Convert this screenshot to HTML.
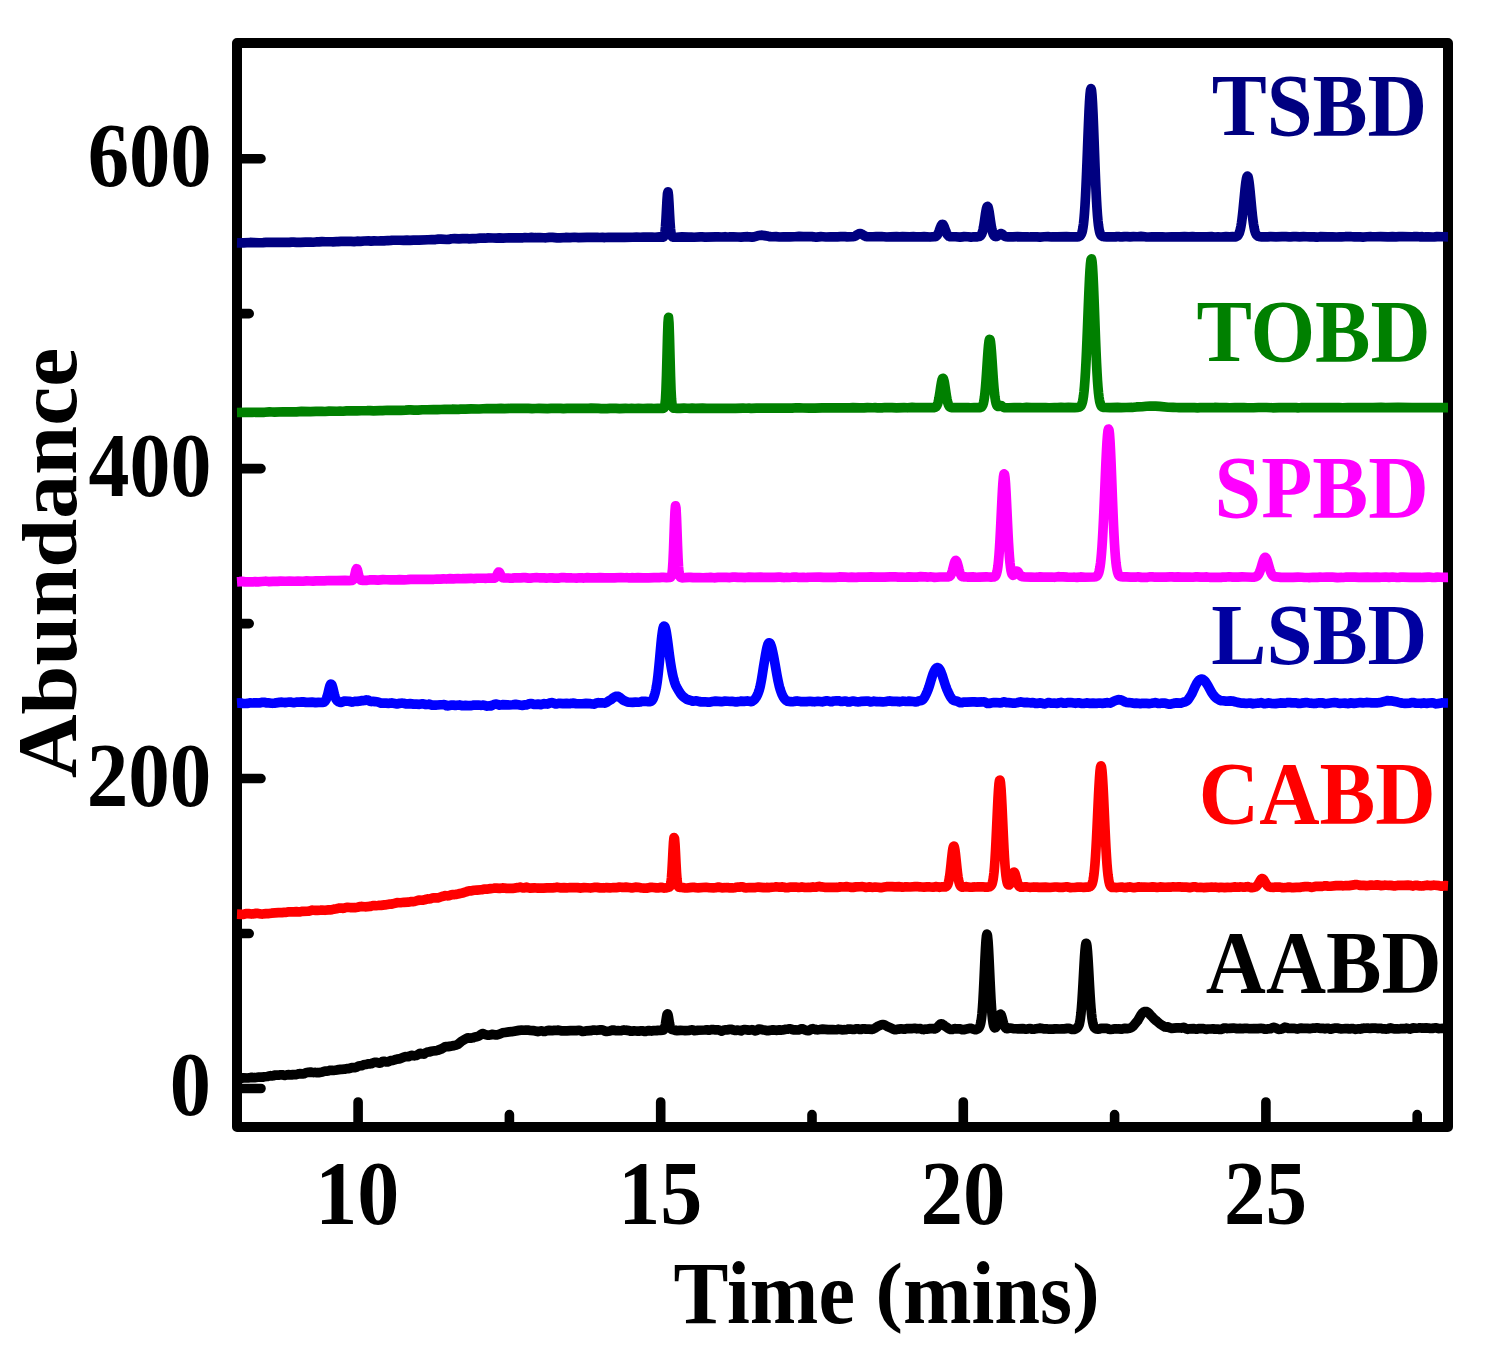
<!DOCTYPE html>
<html><head><meta charset="utf-8"><style>
html,body{margin:0;padding:0;background:#fff;}
svg{display:block;}
text{font-family:"Liberation Serif",serif;font-weight:bold;}
</style></head><body>
<svg width="1488" height="1356" viewBox="0 0 1488 1356">
<rect width="1488" height="1356" fill="#fff"/>
<rect x="237" y="43" width="1211" height="1084" fill="none" stroke="#000" stroke-width="10" stroke-linejoin="round"/>
<path d="M237,1088.50H261M237,778.56H261M237,468.62H261M237,158.68H261M237,933.53H249.2M237,623.59H249.2M237,313.65H249.2M358.10,1127V1102M660.70,1127V1102M963.30,1127V1102M1265.90,1127V1102M509.40,1127V1114.6M812.00,1127V1114.6M1114.60,1127V1114.6M1417.20,1127V1114.6" fill="none" stroke="#000" stroke-width="9.6" stroke-linecap="round"/>
<path d="M237.0,1078.40L240.0,1078.58L241.0,1078.43L243.5,1077.82L248.0,1078.00L251.0,1077.40L251.5,1077.35L253.0,1077.67L254.5,1077.72L259.0,1077.01L260.0,1077.04L261.5,1077.17L262.5,1077.16L264.5,1076.74L267.5,1076.53L269.0,1075.95L270.5,1075.70L272.0,1075.91L273.0,1075.75L275.5,1075.00L278.5,1075.14L280.5,1074.75L282.0,1074.74L283.5,1075.19L285.0,1075.42L287.0,1074.88L288.0,1074.68L290.5,1074.88L291.5,1074.86L293.0,1074.60L296.0,1074.65L297.0,1074.35L298.5,1073.87L299.5,1073.66L302.5,1073.92L304.0,1073.68L306.0,1072.86L308.5,1072.33L310.5,1072.08L312.5,1072.49L314.0,1072.54L315.5,1072.42L317.0,1072.67L318.5,1072.65L321.0,1072.19L322.5,1071.90L325.0,1071.11L326.5,1071.20L328.0,1070.98L329.5,1070.42L330.0,1070.30L332.5,1070.44L333.5,1070.45L335.0,1070.26L337.0,1069.90L340.5,1069.41L341.5,1069.32L344.5,1069.19L347.5,1068.57L349.0,1068.53L351.0,1068.02L352.0,1067.66L353.5,1067.52L355.5,1067.57L357.0,1066.97L358.5,1066.03L361.5,1065.69L362.0,1065.56L363.5,1064.86L365.5,1064.47L366.5,1064.37L368.0,1063.91L369.0,1063.84L370.5,1063.82L371.5,1063.68L373.0,1062.85L374.5,1062.42L376.0,1062.32L378.0,1062.75L379.5,1063.22L381.0,1062.76L382.5,1061.58L384.0,1061.29L384.5,1061.37L386.0,1061.85L387.5,1061.90L390.5,1060.65L393.0,1060.39L394.5,1059.93L396.0,1059.41L397.0,1059.14L399.0,1058.93L400.5,1058.58L403.5,1057.35L405.0,1056.72L408.0,1056.76L408.5,1056.61L410.0,1055.87L411.5,1055.42L414.0,1055.77L414.5,1055.82L416.0,1055.58L417.5,1054.85L419.5,1053.62L421.0,1053.35L422.5,1053.99L424.0,1054.03L424.5,1053.79L425.5,1053.00L426.0,1052.68L427.5,1052.10L429.0,1051.99L431.5,1051.25L433.0,1050.99L436.5,1050.60L437.5,1050.35L441.5,1048.86L443.5,1047.78L445.0,1046.76L446.5,1046.49L448.0,1046.64L449.5,1046.36L452.0,1045.92L454.0,1045.63L456.0,1045.09L458.0,1044.22L461.0,1041.70L466.0,1038.68L468.0,1037.81L469.5,1038.14L470.5,1038.26L473.0,1037.82L474.0,1037.22L476.0,1036.83L477.0,1036.70L478.5,1036.21L480.5,1034.91L481.5,1034.09L482.0,1033.77L482.5,1033.60L483.5,1033.79L485.0,1034.56L488.0,1035.16L489.5,1035.10L490.0,1034.99L491.5,1034.40L493.0,1034.42L495.0,1034.81L497.0,1034.95L499.5,1034.20L502.5,1032.84L505.0,1032.42L509.0,1031.83L511.5,1031.67L519.0,1030.35L521.5,1030.19L525.0,1030.25L526.0,1030.05L528.0,1030.10L530.0,1030.49L533.0,1030.57L537.5,1031.52L538.0,1031.57L541.0,1030.85L543.0,1031.21L544.0,1031.49L544.5,1031.47L546.5,1030.90L547.5,1030.57L549.0,1030.39L552.0,1030.68L554.0,1030.36L557.0,1030.44L558.5,1030.10L561.0,1030.72L562.0,1030.95L565.5,1030.88L567.0,1030.91L570.5,1030.70L575.0,1030.57L576.5,1030.62L579.0,1030.31L579.5,1030.31L582.5,1031.50L584.5,1031.20L586.0,1030.86L590.5,1030.69L593.5,1030.09L594.0,1030.05L596.0,1030.27L597.0,1030.31L600.5,1029.83L602.0,1029.84L603.5,1030.33L605.0,1031.13L606.5,1031.41L610.0,1030.95L613.0,1029.99L615.0,1030.54L616.0,1030.73L618.0,1030.65L620.0,1030.76L621.0,1030.73L622.5,1030.20L624.0,1029.94L625.5,1030.17L629.0,1030.60L630.5,1031.13L632.0,1031.26L634.0,1030.85L636.0,1030.98L637.5,1031.12L639.0,1031.09L641.5,1030.74L642.0,1030.74L645.0,1031.48L648.0,1030.58L649.0,1030.66L651.5,1031.05L653.0,1030.71L655.0,1030.60L656.5,1030.60L658.0,1030.35L660.5,1030.31L663.0,1030.13L663.5,1030.00L664.0,1029.54L664.5,1028.43L665.0,1026.51L665.5,1023.81L666.5,1017.24L667.0,1014.74L667.5,1013.77L668.0,1014.71L668.5,1017.13L669.0,1020.37L669.5,1023.47L670.0,1026.02L670.5,1027.79L671.0,1028.78L671.5,1029.24L674.5,1030.08L675.5,1030.43L677.0,1030.62L680.5,1030.43L683.5,1030.52L685.0,1030.68L689.5,1030.34L691.5,1029.86L693.0,1030.07L694.5,1030.66L696.5,1030.50L698.0,1030.23L704.5,1030.01L706.5,1029.88L707.5,1029.91L709.0,1030.25L711.5,1029.65L712.0,1029.50L713.0,1029.57L715.5,1029.96L718.5,1029.79L720.5,1030.75L721.5,1031.08L722.0,1031.07L723.5,1030.28L725.0,1029.89L726.5,1030.02L728.5,1029.63L729.5,1029.31L730.0,1029.24L731.5,1029.41L733.5,1030.08L734.5,1030.32L736.0,1030.42L737.5,1030.11L738.0,1030.09L741.0,1030.87L742.5,1030.08L744.0,1029.55L744.5,1029.53L748.5,1030.16L749.0,1030.22L752.0,1029.72L752.5,1029.79L754.5,1030.62L755.5,1031.00L757.0,1030.28L758.5,1029.15L759.5,1029.12L760.5,1029.23L762.5,1029.72L765.5,1030.33L766.5,1030.58L768.0,1030.61L772.0,1029.93L773.0,1029.84L776.0,1030.32L779.5,1029.93L781.0,1030.13L782.5,1029.99L785.0,1029.43L787.0,1029.24L788.0,1029.09L789.0,1028.86L790.5,1028.75L792.0,1029.50L793.5,1029.91L794.5,1029.91L795.5,1029.85L797.5,1030.02L798.5,1030.01L801.5,1028.86L802.0,1028.80L803.5,1029.21L805.0,1030.00L806.5,1030.51L808.0,1030.70L809.0,1030.44L810.0,1030.01L811.5,1028.97L813.0,1028.65L815.0,1029.44L816.0,1029.72L818.0,1029.79L820.0,1029.50L821.5,1029.20L822.5,1029.07L828.0,1029.59L829.5,1029.59L832.5,1029.51L835.5,1029.73L837.0,1029.59L838.5,1029.19L840.5,1029.45L842.0,1029.83L845.5,1029.67L847.0,1029.41L848.5,1029.03L850.0,1029.00L853.0,1029.50L854.5,1029.32L856.0,1028.88L857.5,1028.81L858.0,1028.88L859.5,1029.38L861.0,1029.36L862.5,1028.79L864.5,1028.91L866.0,1029.15L869.0,1029.05L872.0,1029.34L873.0,1029.05L875.0,1028.12L878.5,1025.96L881.5,1024.82L883.0,1024.54L883.5,1024.54L885.0,1025.06L888.0,1026.86L891.5,1028.26L893.0,1029.14L894.5,1029.59L896.5,1029.60L899.0,1029.09L901.0,1028.78L904.0,1029.26L905.0,1029.12L907.5,1028.48L912.5,1028.54L914.5,1028.36L915.5,1028.38L917.0,1028.78L920.0,1028.53L920.5,1028.66L922.0,1029.36L923.5,1029.57L925.0,1029.15L926.5,1029.22L930.0,1028.63L932.5,1028.58L933.0,1028.58L934.5,1028.95L935.5,1028.68L936.0,1028.46L936.5,1028.09L938.5,1025.98L939.5,1024.90L940.5,1024.06L941.0,1023.79L941.5,1023.80L942.0,1023.94L943.0,1024.54L944.5,1025.81L946.0,1026.78L948.5,1028.56L949.5,1029.08L950.5,1029.47L952.0,1029.50L953.0,1029.19L954.0,1028.85L955.5,1028.68L957.0,1028.89L959.0,1028.85L960.0,1028.93L962.0,1029.57L963.5,1029.72L965.5,1029.19L969.0,1028.55L970.0,1028.35L971.5,1028.42L973.5,1029.18L974.5,1029.63L976.0,1029.60L977.0,1029.26L978.0,1028.73L978.5,1028.31L979.0,1027.74L979.5,1026.91L980.0,1025.77L980.5,1024.03L981.0,1021.48L981.5,1018.24L982.0,1013.71L982.5,1007.69L983.0,1000.02L983.5,990.87L984.0,980.58L985.0,958.59L985.5,948.69L986.0,940.83L986.5,935.83L987.0,934.12L987.5,935.87L988.0,940.86L988.5,948.61L989.0,958.33L989.5,969.05L990.0,979.95L990.5,990.27L991.0,999.68L991.5,1007.69L992.0,1014.15L992.5,1019.09L993.0,1022.70L993.5,1025.22L994.0,1026.80L994.5,1027.56L995.0,1027.81L995.5,1027.63L996.0,1027.12L996.5,1026.21L997.0,1024.92L997.5,1023.28L998.0,1021.38L999.0,1017.38L999.5,1015.69L1000.0,1014.53L1000.5,1014.18L1001.0,1014.65L1001.5,1015.79L1002.0,1017.45L1003.0,1021.45L1003.5,1023.35L1004.0,1024.89L1004.5,1026.11L1005.0,1027.02L1005.5,1027.74L1006.0,1028.24L1006.5,1028.56L1007.0,1028.64L1008.5,1028.41L1009.5,1028.13L1010.0,1028.07L1013.0,1028.55L1016.5,1028.72L1018.0,1028.88L1022.5,1028.65L1024.5,1028.91L1026.0,1029.21L1027.5,1029.02L1029.0,1028.52L1030.5,1028.53L1032.0,1029.07L1033.5,1029.22L1034.5,1029.08L1039.5,1028.22L1040.5,1028.19L1042.5,1028.60L1043.5,1028.85L1046.0,1028.78L1046.5,1028.74L1049.0,1029.16L1050.5,1029.22L1053.0,1029.15L1055.0,1028.85L1056.5,1028.82L1059.5,1029.00L1062.5,1028.75L1064.0,1028.91L1066.0,1028.69L1067.5,1028.35L1069.0,1028.38L1072.0,1029.45L1073.5,1029.52L1074.0,1029.45L1075.5,1028.88L1076.5,1028.26L1077.5,1027.52L1078.0,1027.00L1078.5,1026.19L1079.0,1025.04L1079.5,1023.33L1080.0,1020.89L1080.5,1017.54L1081.0,1013.13L1081.5,1007.52L1082.0,1000.74L1082.5,992.90L1083.0,984.22L1084.0,965.97L1084.5,957.61L1085.0,950.69L1085.5,945.75L1086.0,943.28L1086.5,943.51L1087.0,946.41L1087.5,951.72L1088.0,958.94L1088.5,967.41L1089.5,985.56L1090.0,994.14L1090.5,1001.84L1091.0,1008.42L1091.5,1013.82L1092.0,1018.17L1092.5,1021.46L1093.0,1023.87L1093.5,1025.65L1094.0,1026.89L1094.5,1027.74L1095.0,1028.27L1095.5,1028.61L1096.5,1028.98L1098.0,1029.16L1099.5,1028.95L1101.0,1028.36L1103.0,1028.36L1104.5,1028.41L1106.0,1028.23L1107.5,1028.53L1109.0,1029.19L1110.5,1029.46L1112.5,1029.23L1114.0,1028.89L1116.0,1028.90L1117.0,1029.00L1118.5,1028.85L1121.5,1029.13L1122.0,1029.10L1124.0,1028.55L1125.0,1028.34L1128.0,1028.58L1129.5,1028.31L1131.0,1027.73L1132.0,1027.10L1133.0,1026.26L1135.0,1023.89L1137.5,1020.91L1138.0,1020.17L1141.0,1014.92L1142.0,1013.56L1142.5,1012.96L1143.5,1012.12L1144.5,1011.62L1145.0,1011.49L1146.0,1011.52L1147.0,1011.78L1147.5,1012.02L1148.5,1012.92L1150.0,1014.54L1150.5,1015.15L1152.5,1017.18L1154.0,1018.87L1155.5,1020.23L1157.0,1021.31L1160.5,1024.31L1162.0,1025.30L1164.0,1026.38L1165.0,1026.97L1166.5,1027.12L1168.0,1026.94L1168.5,1027.09L1170.0,1027.91L1171.5,1028.38L1176.5,1027.84L1179.0,1027.93L1181.0,1028.03L1182.5,1027.54L1184.0,1027.39L1184.5,1027.62L1186.0,1028.73L1187.5,1029.32L1189.0,1028.93L1193.5,1028.65L1194.0,1028.68L1195.5,1029.06L1197.0,1029.08L1198.5,1028.60L1201.5,1028.60L1203.5,1028.51L1205.0,1029.27L1206.5,1029.40L1208.0,1028.98L1209.0,1028.99L1210.5,1028.99L1213.0,1028.82L1214.5,1029.12L1217.5,1029.01L1219.5,1029.41L1221.0,1029.46L1222.5,1028.92L1224.0,1028.09L1224.5,1027.98L1226.0,1028.05L1227.5,1028.53L1229.5,1028.42L1233.5,1028.12L1235.0,1028.31L1237.0,1028.74L1240.0,1028.33L1242.0,1028.69L1243.5,1028.67L1245.0,1028.27L1246.5,1028.26L1249.5,1028.74L1251.5,1028.71L1253.5,1028.50L1258.0,1028.60L1261.0,1028.29L1262.5,1028.46L1264.5,1029.10L1265.5,1029.26L1266.0,1029.24L1267.5,1028.81L1270.5,1028.73L1272.0,1027.87L1273.5,1027.42L1274.0,1027.40L1275.5,1027.84L1277.5,1028.92L1278.5,1029.37L1280.5,1029.23L1282.0,1028.87L1283.5,1028.15L1285.0,1027.20L1286.5,1027.43L1288.0,1028.36L1288.5,1028.49L1290.0,1028.49L1291.5,1028.28L1293.5,1028.38L1294.5,1028.35L1296.5,1028.91L1297.5,1029.03L1298.0,1028.97L1299.5,1028.27L1301.0,1028.11L1302.5,1028.38L1307.5,1028.37L1309.5,1028.57L1310.5,1028.57L1312.5,1028.17L1315.5,1028.05L1317.0,1027.80L1319.0,1028.07L1320.0,1028.34L1323.5,1028.46L1325.0,1028.78L1327.5,1028.33L1328.0,1028.27L1328.5,1028.39L1330.0,1029.05L1331.5,1029.20L1333.0,1028.52L1334.5,1028.13L1338.0,1028.19L1340.0,1028.67L1341.0,1029.00L1343.5,1028.73L1345.5,1028.58L1347.5,1028.63L1349.0,1028.86L1350.5,1028.82L1352.0,1028.51L1353.0,1028.64L1355.5,1029.33L1357.0,1028.95L1358.5,1028.79L1360.0,1029.06L1360.5,1029.00L1363.0,1028.25L1363.5,1028.15L1365.0,1028.29L1367.0,1028.12L1368.5,1028.18L1370.0,1028.39L1372.5,1028.09L1374.0,1027.98L1375.0,1028.05L1377.5,1028.52L1378.0,1028.53L1379.5,1028.25L1381.0,1028.42L1382.5,1028.87L1384.5,1028.85L1386.5,1029.05L1387.5,1029.02L1389.0,1028.30L1390.5,1027.95L1394.0,1028.85L1397.0,1028.77L1398.5,1029.02L1400.5,1028.80L1401.5,1028.56L1402.0,1028.51L1403.5,1028.69L1405.0,1028.57L1406.5,1028.16L1408.0,1028.43L1409.5,1029.00L1410.0,1029.07L1411.5,1028.66L1413.0,1027.91L1416.5,1028.25L1418.5,1028.04L1419.5,1027.87L1421.0,1027.89L1422.5,1028.19L1426.5,1027.93L1428.5,1028.04L1429.5,1028.23L1430.5,1028.50L1432.0,1028.47L1434.0,1027.96L1435.5,1027.81L1438.5,1028.56L1440.5,1028.52L1443.5,1028.22L1448.0,1028.30" fill="none" stroke="#000000" stroke-width="9.7" stroke-linejoin="round" stroke-linecap="butt"/>
<path d="M237.0,914.20L242.5,914.40L243.5,914.31L245.5,913.74L246.5,913.55L248.5,913.58L251.5,914.03L253.0,913.95L256.0,913.39L258.0,913.41L261.0,913.98L262.5,914.04L266.0,913.62L269.0,913.56L271.5,913.19L278.5,912.66L282.0,912.55L284.0,912.38L285.5,912.35L287.0,912.16L289.0,911.83L290.5,911.79L293.5,911.86L296.5,911.67L299.5,911.97L302.5,911.36L308.0,911.14L309.0,911.06L311.5,910.31L312.0,910.18L313.5,910.26L315.5,910.44L317.5,910.31L320.5,910.20L322.0,910.05L325.0,910.28L328.5,909.91L331.0,909.84L332.0,909.63L334.0,909.12L336.5,908.73L339.0,908.08L339.5,907.99L341.5,908.16L342.5,908.31L344.0,908.16L346.0,907.50L347.5,907.29L350.0,907.54L355.0,907.68L357.5,907.32L360.5,906.57L362.0,906.46L365.0,906.80L370.0,906.46L372.0,905.90L373.0,905.54L374.5,905.49L376.0,905.73L378.0,905.53L379.5,905.29L381.0,905.34L384.5,904.83L386.0,904.79L389.0,904.18L391.0,904.12L392.5,903.87L397.0,902.72L400.5,902.76L404.0,902.31L408.0,902.17L411.5,901.49L413.5,901.55L414.5,901.50L418.0,900.39L419.5,900.15L422.5,900.26L424.5,899.83L426.5,899.17L427.5,898.95L429.0,899.02L430.5,898.80L432.5,898.03L434.0,897.76L437.5,897.85L438.5,897.80L442.0,896.49L444.0,896.00L445.0,895.69L447.0,895.74L448.0,895.85L449.0,895.65L450.5,895.13L451.5,894.74L453.0,894.49L455.0,894.53L456.5,894.38L460.0,893.48L462.5,892.97L466.0,891.95L467.5,891.29L469.0,890.96L470.5,890.95L474.0,890.24L476.5,890.14L477.0,890.18L481.0,889.76L482.5,889.58L485.0,888.98L488.0,889.09L490.5,888.64L493.5,888.28L495.0,888.05L496.5,888.10L499.5,888.41L502.5,887.94L504.5,888.08L506.5,888.39L508.5,888.46L512.5,888.43L516.0,887.85L517.5,887.69L520.0,887.14L521.0,887.29L523.5,888.02L526.5,887.21L529.5,888.05L530.0,888.13L534.5,887.84L536.5,888.00L538.0,888.21L541.0,888.01L543.5,888.15L547.0,887.90L551.0,887.86L552.5,887.95L554.5,887.66L557.0,887.20L560.0,887.80L564.0,887.71L567.0,887.86L568.5,887.78L570.0,887.57L572.0,887.62L574.5,887.72L577.5,887.66L581.0,888.08L584.0,887.60L587.5,887.74L590.5,888.03L594.0,887.46L597.0,887.37L600.0,887.88L603.5,887.72L605.0,887.81L606.5,887.62L610.0,887.95L613.5,887.55L615.0,887.51L616.5,887.56L618.0,887.41L619.5,887.09L621.5,887.30L622.5,887.47L626.0,887.09L629.0,887.46L631.0,887.86L632.0,887.96L633.0,887.75L635.5,887.12L638.0,887.33L641.5,888.01L644.0,888.12L645.5,888.22L646.5,888.21L650.0,887.45L652.0,887.37L653.5,887.49L656.5,887.92L658.0,887.92L661.0,887.28L664.0,888.03L665.5,888.00L666.5,887.76L667.5,887.46L669.0,887.18L669.5,886.96L670.0,886.37L670.5,885.01L671.0,882.23L671.5,877.42L672.0,870.21L672.5,860.92L673.0,850.87L673.5,842.30L674.0,837.61L674.5,838.29L675.0,844.06L675.5,853.22L676.0,863.37L676.5,872.42L677.0,879.24L677.5,883.44L678.0,885.75L678.5,886.83L679.0,887.24L679.5,887.31L681.0,887.31L683.0,887.60L685.0,887.98L687.0,887.98L692.0,887.44L693.0,887.28L694.5,887.38L696.0,887.76L698.0,887.80L706.0,887.25L709.5,887.76L713.5,887.87L715.5,887.71L718.5,887.06L720.5,887.47L722.0,887.85L725.0,887.71L726.5,887.52L728.5,887.66L730.0,887.97L733.0,887.96L734.5,887.79L736.5,887.21L738.0,887.00L739.5,887.08L741.0,886.91L742.5,886.95L744.5,887.65L746.0,887.84L749.5,887.54L755.5,887.55L758.5,887.08L763.5,887.67L765.0,887.68L766.5,887.45L769.5,887.57L772.0,887.22L775.0,887.01L776.0,886.84L778.0,887.04L779.5,887.26L782.5,886.88L784.5,887.32L786.0,887.75L787.5,887.73L789.5,887.25L790.5,887.11L794.0,887.19L796.0,887.12L797.5,887.27L798.5,887.45L800.5,887.20L801.5,886.98L802.0,886.95L805.0,887.51L808.5,887.42L810.0,887.48L812.0,887.15L813.0,886.90L814.5,887.23L816.0,887.22L817.0,886.86L818.0,886.49L819.5,886.44L821.5,886.91L824.5,887.30L828.0,887.31L833.0,887.43L837.0,887.43L839.0,887.14L840.5,886.86L843.5,886.99L846.5,886.64L849.0,886.96L851.5,887.33L853.0,887.36L856.0,886.85L860.0,886.77L862.5,886.59L865.5,887.33L866.0,887.39L867.5,887.23L869.0,886.87L871.0,887.13L872.0,887.34L874.0,887.19L875.5,887.04L878.0,887.22L880.5,887.58L882.0,887.62L884.5,887.10L886.5,886.70L889.0,886.66L892.0,886.67L895.0,886.91L899.0,886.69L900.0,886.81L902.0,887.15L902.5,887.21L904.5,886.94L907.0,886.95L910.0,886.99L915.0,886.69L917.0,886.53L919.5,886.81L921.0,886.93L924.0,887.04L927.0,886.91L930.0,886.96L933.0,887.26L935.5,886.68L936.0,886.58L937.0,886.72L939.5,887.29L942.5,886.73L944.5,886.94L945.5,886.83L946.0,886.67L946.5,886.35L947.0,885.86L947.5,885.10L948.0,883.95L948.5,882.31L949.0,880.07L949.5,877.19L950.0,873.60L950.5,869.34L951.0,864.69L951.5,859.85L952.0,855.18L952.5,851.09L953.0,848.00L953.5,846.28L954.0,846.11L954.5,847.51L955.0,850.32L955.5,854.25L956.0,858.91L956.5,863.82L957.0,868.59L957.5,872.99L958.0,876.74L958.5,879.79L959.0,882.17L959.5,883.94L960.0,885.20L960.5,886.04L961.0,886.56L961.5,886.90L962.0,887.07L963.5,887.06L965.0,886.77L966.5,886.67L970.0,887.23L972.0,887.19L975.5,886.96L978.0,886.73L981.0,886.90L982.5,886.78L985.0,887.06L986.5,887.19L988.0,887.09L989.5,886.74L990.0,886.51L990.5,886.17L991.0,885.72L991.5,885.02L992.0,883.93L992.5,882.33L993.0,880.03L993.5,876.81L994.0,872.46L994.5,866.82L995.0,859.77L995.5,851.32L996.0,841.56L996.5,830.85L997.0,819.66L997.5,808.64L998.0,798.48L998.5,789.95L999.0,783.74L999.5,780.37L1000.0,780.12L1000.5,782.95L1001.0,788.63L1001.5,796.73L1002.0,806.57L1002.5,817.40L1003.0,828.50L1003.5,839.26L1004.0,849.21L1004.5,857.94L1005.0,865.28L1005.5,871.25L1006.0,875.89L1006.5,879.34L1007.0,881.84L1007.5,883.52L1008.0,884.54L1008.5,885.02L1009.0,885.02L1009.5,884.58L1010.0,883.67L1010.5,882.31L1011.0,880.62L1011.5,878.71L1012.0,876.69L1012.5,874.82L1013.0,873.31L1013.5,872.38L1014.0,872.10L1014.5,872.51L1015.0,873.59L1015.5,875.15L1016.0,876.99L1017.0,880.92L1017.5,882.63L1018.0,884.06L1018.5,885.19L1019.0,886.05L1019.5,886.65L1020.0,886.96L1021.0,887.26L1023.0,887.08L1025.5,886.77L1027.0,886.94L1029.5,887.28L1031.0,887.28L1034.0,886.97L1037.0,887.11L1039.0,887.34L1045.5,887.13L1050.0,887.50L1055.0,886.99L1056.5,886.98L1059.5,887.39L1062.5,887.33L1065.0,886.98L1066.5,886.79L1067.5,886.79L1069.0,887.34L1070.5,887.66L1072.5,887.50L1074.5,887.49L1077.5,887.17L1080.5,887.03L1082.5,887.26L1083.5,887.41L1086.5,887.08L1088.0,887.16L1089.0,886.99L1090.0,886.59L1090.5,886.26L1091.0,885.77L1091.5,885.06L1092.0,884.07L1092.5,882.64L1093.0,880.64L1093.5,877.88L1094.0,874.25L1094.5,869.59L1095.0,863.74L1095.5,856.65L1096.0,848.34L1096.5,838.97L1097.0,828.70L1097.5,817.82L1098.0,806.77L1098.5,796.10L1099.0,786.32L1099.5,777.96L1100.0,771.42L1100.5,767.30L1101.0,765.84L1101.5,767.08L1102.0,770.99L1102.5,777.30L1103.0,785.69L1103.5,795.58L1104.0,806.36L1104.5,817.57L1105.0,828.66L1105.5,839.13L1106.0,848.68L1106.5,857.10L1107.0,864.29L1107.5,870.24L1108.0,874.99L1108.5,878.70L1109.0,881.55L1109.5,883.63L1110.0,885.14L1110.5,886.21L1111.0,886.85L1111.5,887.24L1112.0,887.46L1113.0,887.52L1114.5,887.42L1117.0,887.53L1121.5,887.05L1122.5,887.17L1125.0,887.66L1127.0,887.36L1128.5,887.00L1130.0,886.93L1133.0,887.62L1135.0,887.55L1137.0,887.13L1138.0,886.91L1139.5,886.90L1141.0,887.18L1143.0,887.13L1144.5,887.00L1149.0,887.27L1152.5,886.91L1155.0,887.19L1157.0,887.44L1160.0,886.90L1165.0,887.27L1168.5,887.02L1171.5,887.04L1173.0,886.87L1176.0,887.01L1178.5,886.75L1180.0,886.83L1182.5,887.19L1185.0,887.08L1186.0,887.03L1188.0,887.34L1189.0,887.56L1190.5,887.59L1194.0,886.80L1195.5,886.87L1197.0,887.32L1198.5,887.49L1200.5,887.29L1203.0,887.53L1204.0,887.56L1207.0,887.34L1209.5,887.24L1211.5,887.09L1213.5,887.27L1216.0,887.18L1218.5,887.56L1219.5,887.60L1221.0,887.27L1224.5,887.57L1227.5,887.37L1230.5,887.48L1234.0,886.95L1235.5,886.92L1237.0,887.21L1238.5,887.25L1240.0,886.93L1242.0,887.02L1243.5,887.26L1245.0,887.12L1246.5,886.73L1248.0,886.66L1249.0,886.99L1250.5,887.51L1251.5,887.71L1254.5,887.16L1255.5,886.85L1256.0,886.60L1256.5,886.24L1257.0,885.76L1258.0,884.48L1259.0,882.87L1260.5,880.20L1261.0,879.45L1261.5,878.94L1262.0,878.64L1262.5,878.56L1263.0,878.86L1263.5,879.43L1264.5,881.04L1266.0,883.73L1267.0,885.12L1268.0,886.18L1269.0,886.83L1270.0,887.07L1273.5,887.41L1274.5,887.27L1275.5,887.06L1277.5,886.99L1280.0,887.13L1282.0,887.62L1283.5,887.74L1287.0,887.37L1288.5,887.14L1290.0,887.21L1291.5,887.58L1293.0,887.70L1296.5,887.35L1299.5,887.46L1301.5,887.01L1303.0,886.85L1305.0,886.70L1307.5,886.50L1309.0,886.73L1310.5,887.21L1312.0,887.39L1313.0,887.15L1315.5,886.32L1317.5,886.35L1319.0,886.43L1322.5,886.31L1324.0,886.08L1325.0,885.85L1326.5,885.89L1328.5,886.23L1330.5,886.23L1336.0,885.66L1341.0,885.54L1342.5,885.82L1344.5,885.75L1346.0,885.50L1349.0,885.61L1354.0,884.91L1355.5,884.56L1357.0,884.60L1359.0,885.12L1360.5,885.35L1363.5,885.28L1366.0,885.60L1367.0,885.69L1368.5,885.53L1370.0,885.14L1371.5,885.04L1373.0,885.24L1375.0,885.12L1377.5,884.86L1378.5,884.97L1380.5,885.47L1381.0,885.62L1383.0,885.43L1384.5,885.19L1386.5,885.23L1389.0,885.46L1390.5,885.35L1392.5,885.62L1394.0,885.94L1395.5,885.83L1397.5,885.45L1400.5,885.28L1404.0,885.31L1408.0,885.19L1410.0,885.29L1412.0,885.83L1413.0,886.03L1414.5,885.52L1416.0,885.24L1417.0,885.39L1420.0,885.94L1421.5,886.03L1423.0,885.94L1425.0,885.56L1427.0,885.21L1427.5,885.18L1429.5,885.55L1430.5,885.66L1433.5,885.19L1435.0,885.27L1439.0,885.67L1441.5,886.20L1442.0,886.22L1444.5,885.70L1445.5,885.68L1448.0,885.80" fill="none" stroke="#FF0000" stroke-width="9.7" stroke-linejoin="round" stroke-linecap="butt"/>
<path d="M237.0,703.10L239.5,702.94L241.0,703.09L242.5,703.35L246.0,703.50L247.0,703.40L249.5,702.88L250.5,702.90L252.0,702.99L253.5,702.90L255.0,702.73L256.5,702.80L258.0,703.00L259.5,702.92L262.5,702.27L264.0,702.31L266.0,702.81L268.5,702.95L271.5,703.21L272.5,703.29L274.5,703.09L279.5,702.43L282.0,702.18L284.5,702.57L285.0,702.67L287.5,702.26L289.5,701.99L291.0,702.16L293.0,702.64L294.5,702.63L296.5,702.11L298.0,701.99L299.5,702.06L302.0,701.83L303.0,701.87L306.0,702.39L308.5,702.44L312.0,702.16L315.5,702.66L318.5,702.37L322.5,702.49L323.5,702.33L324.0,702.10L324.5,701.77L325.0,701.28L325.5,700.63L326.0,699.74L326.5,698.57L327.0,697.09L327.5,695.34L328.0,693.37L329.0,689.07L329.5,687.11L330.0,685.53L330.5,684.48L331.0,684.05L331.5,684.30L332.0,685.27L332.5,686.76L333.0,688.62L334.0,692.79L334.5,694.79L335.0,696.49L335.5,697.91L336.0,699.03L336.5,699.91L337.0,700.56L337.5,701.02L338.5,701.71L339.5,702.14L341.0,702.41L343.0,701.66L344.0,701.18L345.0,701.08L349.0,701.25L352.0,702.04L353.0,701.87L355.5,701.31L357.5,701.35L359.0,701.19L362.0,700.63L364.0,700.55L365.0,700.44L366.5,699.94L368.0,700.13L369.0,700.64L370.0,701.19L371.5,701.53L373.0,701.38L375.0,701.56L378.0,702.03L381.0,703.11L383.5,703.21L386.0,703.14L388.5,703.35L389.0,703.37L390.5,702.99L392.0,702.96L396.0,703.77L397.0,703.98L399.0,703.54L400.0,703.23L402.0,703.17L403.5,703.23L406.5,703.97L410.0,703.65L413.5,704.13L415.0,704.16L416.5,704.11L419.5,704.29L422.5,703.80L424.5,704.19L425.5,704.48L426.0,704.55L428.5,704.22L429.0,704.14L432.0,705.19L433.0,705.20L436.0,705.07L437.5,705.02L440.5,704.74L442.5,704.73L443.5,704.66L445.0,704.86L446.5,705.68L448.0,705.82L450.5,705.21L451.5,705.05L453.5,705.16L455.0,705.33L456.5,705.30L459.5,704.96L462.5,705.74L465.5,705.41L468.0,705.54L469.5,705.66L470.5,705.65L473.0,705.19L474.0,705.11L476.0,705.19L478.5,705.10L480.5,705.29L482.5,705.15L483.5,705.03L485.5,705.65L486.5,706.06L490.0,705.70L491.5,705.79L494.0,704.53L494.5,704.25L496.0,704.10L497.5,704.40L499.5,705.06L501.0,705.02L502.5,704.68L507.5,704.80L509.0,704.99L512.5,704.71L515.5,704.34L521.0,705.28L522.0,705.34L525.0,704.86L526.5,704.83L528.5,704.15L529.5,703.66L530.0,703.50L531.5,703.52L533.0,704.20L534.5,704.49L538.0,704.12L541.0,704.59L544.0,703.69L545.0,703.73L547.5,704.04L550.5,702.74L552.0,702.68L553.5,703.15L555.5,703.86L557.0,703.82L558.5,703.43L560.0,703.30L563.0,703.56L566.5,703.43L568.5,703.67L570.0,703.65L571.5,703.23L573.0,703.17L576.0,703.57L582.5,703.75L586.0,703.35L590.5,703.66L592.5,704.00L594.0,704.04L595.5,703.58L597.0,702.73L598.5,702.71L600.0,703.02L601.0,702.93L602.0,702.80L604.0,702.96L605.0,703.09L606.5,702.43L608.5,701.07L610.5,699.91L611.5,699.23L613.5,697.60L615.0,696.73L616.0,696.37L617.0,696.25L618.0,696.40L619.5,697.20L621.5,698.74L623.0,699.95L624.5,700.81L627.5,701.94L629.0,702.25L632.5,702.32L635.5,702.05L638.5,702.23L640.0,702.05L642.0,701.44L644.0,701.27L645.0,701.25L648.5,701.74L650.0,701.61L651.0,701.32L651.5,701.03L652.0,700.49L652.5,699.82L653.0,699.00L653.5,697.90L654.0,696.57L655.0,693.30L655.5,691.33L656.0,688.96L656.5,686.25L657.0,683.15L657.5,679.58L658.0,675.47L658.5,670.81L659.0,665.81L659.5,660.52L660.5,649.34L661.0,643.96L661.5,639.09L662.0,634.77L662.5,631.15L663.0,628.45L663.5,626.74L664.0,626.06L664.5,626.23L665.0,627.05L665.5,628.54L666.0,630.69L666.5,633.44L667.0,636.63L667.5,640.16L668.0,643.98L669.0,651.87L669.5,655.63L670.0,659.24L670.5,662.67L671.0,665.85L671.5,668.77L672.0,671.44L672.5,673.93L673.0,676.23L673.5,678.31L674.0,680.19L674.5,681.91L675.0,683.47L675.5,684.85L676.5,686.96L677.5,688.76L679.0,691.19L680.0,692.83L681.5,694.92L682.5,695.99L684.5,697.68L686.5,699.15L688.0,699.75L690.0,700.25L692.0,700.92L693.0,701.16L695.0,701.03L696.0,700.87L697.5,701.03L699.5,701.66L701.0,701.89L704.5,701.76L708.0,702.18L709.0,702.23L712.5,701.48L715.5,701.08L721.5,701.64L723.0,701.48L725.0,701.08L728.0,701.23L730.5,701.46L733.0,701.40L735.0,701.80L736.5,701.88L740.5,701.22L741.0,701.11L744.0,701.41L746.5,701.01L747.5,700.96L750.5,701.58L752.0,701.36L753.0,700.82L754.0,700.02L755.0,698.93L756.0,697.52L756.5,696.67L757.5,694.73L758.0,693.61L758.5,692.31L759.0,690.80L759.5,689.09L760.0,687.17L760.5,684.90L761.0,682.34L761.5,679.59L762.0,676.65L762.5,673.54L763.5,667.08L764.5,660.92L765.5,655.02L766.0,652.29L766.5,649.82L767.0,647.57L767.5,645.66L768.0,644.14L768.5,643.18L769.0,642.77L769.5,642.81L770.0,643.28L770.5,644.19L771.0,645.46L771.5,647.05L772.0,648.89L772.5,651.01L773.5,655.82L774.0,658.44L775.0,663.97L777.0,675.24L777.5,677.91L778.0,680.44L778.5,682.79L779.0,684.98L779.5,686.98L780.0,688.78L780.5,690.39L781.5,693.20L782.0,694.40L783.0,696.45L783.5,697.33L784.5,698.78L785.5,699.92L786.0,700.35L787.0,700.95L787.5,701.16L791.0,701.71L792.5,701.76L794.0,701.54L795.5,701.13L797.0,700.95L800.5,701.58L806.5,701.69L810.0,701.29L812.5,701.58L814.5,701.78L818.0,701.29L820.0,701.50L821.5,701.73L822.5,701.79L824.5,701.33L826.0,700.84L827.5,700.80L830.5,701.73L832.0,701.61L834.0,700.99L836.5,700.75L838.5,700.81L840.5,701.33L842.0,701.48L845.0,701.05L846.5,701.33L848.0,701.92L849.0,702.00L850.0,701.91L851.5,701.24L853.0,701.04L856.5,701.75L858.0,701.87L859.5,701.72L861.0,701.34L866.5,701.04L867.5,701.08L869.0,701.37L870.5,701.88L872.0,701.73L873.5,701.24L874.0,701.16L876.0,701.52L877.0,701.77L879.5,701.65L883.0,701.91L885.0,701.76L888.5,701.01L890.0,700.94L892.5,701.39L893.5,701.44L896.5,701.27L898.5,701.62L899.5,701.84L902.0,701.25L902.5,701.12L904.5,701.27L906.0,701.52L908.0,701.30L909.0,701.09L913.0,701.54L915.5,701.88L917.0,701.65L918.5,701.06L921.5,700.47L922.0,700.22L923.0,699.37L923.5,698.82L924.5,697.31L925.5,695.51L926.5,693.41L927.5,691.10L928.0,689.82L929.0,686.95L930.0,683.79L931.5,678.71L932.5,675.61L933.0,674.15L933.5,672.89L934.0,671.73L934.5,670.70L935.0,669.80L935.5,669.05L936.0,668.48L936.5,668.03L937.0,667.73L937.5,667.63L938.0,667.71L938.5,667.98L939.0,668.45L939.5,669.10L940.0,669.96L940.5,670.98L941.0,672.14L941.5,673.41L942.5,676.24L945.0,684.13L946.0,687.06L947.0,689.60L948.0,691.96L949.0,694.06L950.0,695.99L951.0,697.60L952.0,698.94L953.0,699.92L953.5,700.32L954.0,700.60L956.0,701.03L957.0,701.13L960.0,702.66L960.5,702.76L962.0,702.64L963.5,702.13L965.5,702.06L967.0,702.10L972.5,701.86L974.5,701.86L977.0,702.10L982.5,701.97L984.0,701.85L985.0,702.16L986.0,702.62L987.5,703.50L989.0,703.47L991.0,703.00L994.0,702.49L996.0,702.53L1000.0,702.91L1001.5,702.67L1002.5,702.28L1003.5,701.86L1005.0,702.08L1006.5,702.58L1008.5,702.57L1010.5,702.83L1012.0,703.05L1014.5,703.13L1017.0,702.73L1020.0,702.05L1021.0,701.92L1024.0,702.57L1027.0,702.40L1028.0,702.52L1029.5,702.78L1030.5,702.85L1032.5,702.69L1034.0,702.85L1035.5,703.34L1037.0,703.47L1039.0,703.03L1040.0,702.89L1041.5,703.07L1043.5,703.74L1045.0,703.87L1048.0,702.61L1048.5,702.56L1050.0,702.80L1051.5,703.27L1054.0,703.11L1055.0,703.17L1056.0,703.35L1057.5,703.30L1058.5,703.03L1059.5,702.68L1061.0,702.44L1064.0,703.25L1065.5,703.19L1067.5,702.67L1071.0,702.72L1072.0,702.66L1075.5,703.28L1078.5,702.79L1082.0,703.52L1083.5,703.52L1086.5,702.93L1090.0,703.37L1093.0,703.07L1095.5,703.35L1096.5,703.42L1099.5,703.02L1102.5,703.38L1104.5,703.20L1106.0,702.83L1107.5,702.69L1109.0,702.99L1110.5,703.05L1112.0,702.26L1114.0,701.08L1116.0,700.47L1118.5,699.66L1120.0,699.76L1121.5,700.19L1124.5,701.61L1125.0,701.87L1126.5,702.34L1129.0,702.57L1131.0,702.77L1133.5,703.30L1134.5,703.42L1136.5,703.16L1138.0,703.26L1139.5,703.66L1141.0,703.56L1142.5,703.26L1146.5,703.39L1149.0,703.56L1151.5,703.30L1155.0,702.70L1155.5,702.67L1158.5,703.51L1160.5,703.32L1162.5,703.03L1165.0,703.02L1167.5,703.82L1168.5,704.10L1170.0,704.15L1173.0,703.58L1175.0,703.03L1176.5,702.85L1180.5,703.07L1181.0,703.06L1183.0,702.47L1184.0,702.03L1185.5,701.67L1186.5,701.20L1187.5,700.45L1188.5,699.09L1190.0,696.88L1191.5,694.36L1192.0,693.43L1193.0,691.27L1195.0,686.77L1195.5,685.70L1197.0,682.94L1198.0,681.46L1199.0,680.30L1199.5,679.87L1200.5,679.31L1201.0,679.17L1202.0,679.21L1203.0,679.51L1204.0,680.18L1205.0,681.18L1206.0,682.59L1208.0,685.80L1210.0,689.47L1211.5,692.32L1213.0,694.49L1214.5,696.34L1216.0,697.92L1217.0,698.68L1219.5,700.18L1221.0,700.72L1223.0,700.74L1225.0,701.08L1226.0,701.27L1228.0,701.12L1230.5,700.94L1232.5,701.06L1235.0,701.71L1237.5,702.38L1242.0,703.17L1243.5,703.08L1246.5,703.47L1249.5,703.03L1250.0,703.03L1253.0,703.79L1256.5,703.25L1258.0,703.22L1261.0,702.65L1264.0,703.57L1265.5,703.61L1266.5,703.39L1267.5,703.09L1269.0,702.92L1271.0,703.29L1275.5,703.59L1280.0,702.93L1285.0,703.07L1287.0,702.81L1288.0,702.56L1289.5,702.57L1291.5,702.89L1295.0,702.75L1296.0,702.82L1298.0,703.39L1299.5,703.51L1301.5,703.18L1306.0,702.67L1307.5,702.67L1310.5,703.19L1314.0,703.53L1315.5,703.41L1317.5,703.00L1319.0,702.88L1322.0,702.88L1323.5,703.11L1325.0,703.56L1327.0,703.52L1332.0,702.75L1334.5,702.55L1336.5,702.79L1338.0,703.16L1340.0,703.33L1342.0,703.26L1344.5,703.13L1346.5,703.42L1347.5,703.61L1349.0,703.41L1350.5,702.89L1352.5,703.13L1354.0,703.36L1359.0,702.72L1360.5,702.68L1363.0,702.90L1365.0,702.73L1366.5,702.46L1368.5,702.53L1371.5,702.92L1375.0,702.81L1377.0,702.92L1378.5,702.78L1381.5,702.18L1386.5,700.82L1387.5,700.64L1390.5,700.97L1392.0,700.94L1397.5,702.09L1400.5,702.91L1402.5,703.17L1405.0,703.34L1410.0,703.05L1411.5,702.69L1413.0,702.56L1416.0,703.23L1420.0,703.27L1421.0,703.37L1423.5,702.98L1424.0,702.93L1426.0,703.35L1427.5,703.31L1429.0,702.99L1432.0,702.77L1433.5,703.06L1435.5,703.79L1437.0,703.75L1441.5,702.96L1445.0,703.02L1447.5,702.99L1448.0,703.00" fill="none" stroke="#0000FF" stroke-width="9.7" stroke-linejoin="round" stroke-linecap="butt"/>
<path d="M237.0,581.80L239.5,581.64L242.0,581.37L245.0,581.84L252.0,581.79L253.0,581.84L255.0,581.69L258.0,581.89L261.5,581.49L265.0,581.27L266.0,581.20L268.5,581.53L269.0,581.62L273.0,581.42L277.5,581.38L280.5,581.18L285.5,581.27L289.5,581.06L294.5,581.25L298.0,581.13L303.0,581.23L306.5,580.94L310.0,581.02L313.0,581.17L316.0,580.93L317.5,580.82L321.0,580.96L324.5,580.84L327.0,580.70L328.5,580.52L332.0,580.58L334.0,580.50L337.0,580.71L345.0,580.46L349.0,580.67L352.0,580.34L352.5,580.16L353.0,579.81L353.5,579.14L354.0,578.00L354.5,576.31L355.0,574.12L355.5,571.78L356.0,569.82L356.5,568.76L357.0,568.93L357.5,570.26L358.0,572.39L358.5,574.74L359.0,576.80L359.5,578.33L360.0,579.30L360.5,579.86L361.0,580.13L362.0,580.30L366.0,580.43L367.0,580.34L369.5,579.92L374.5,579.82L378.0,580.17L380.5,579.91L383.0,579.67L386.5,579.77L390.5,579.79L396.5,579.84L399.5,579.69L404.0,579.81L407.5,579.61L410.5,579.34L413.5,579.36L416.5,579.28L418.5,579.34L421.5,579.28L425.0,579.34L428.5,579.30L434.0,579.29L437.0,579.00L440.5,579.08L443.5,578.89L446.5,579.03L450.0,578.66L453.5,578.79L458.0,578.49L462.0,578.72L465.5,578.64L471.0,578.30L473.0,578.47L474.0,578.58L477.0,578.24L481.0,578.23L483.5,578.27L485.5,578.35L487.0,578.26L489.0,578.05L493.0,577.94L494.5,578.05L495.0,577.89L495.5,577.56L496.0,577.00L496.5,576.13L497.5,573.81L498.0,572.77L498.5,572.14L499.0,572.05L499.5,572.53L500.0,573.45L501.0,575.67L501.5,576.54L502.0,577.17L502.5,577.55L503.0,577.78L504.0,577.94L508.0,578.02L511.0,578.24L512.5,578.14L515.0,577.80L518.0,577.84L520.5,577.90L523.5,577.60L525.0,577.64L528.5,578.17L530.5,578.06L533.5,577.75L536.5,577.61L538.5,577.78L540.0,577.93L544.0,577.95L546.5,578.11L548.0,578.00L550.0,577.77L552.0,577.83L554.5,578.07L558.0,578.09L559.0,578.07L562.0,577.55L563.5,577.51L566.5,577.81L569.0,577.85L572.0,577.96L574.0,577.98L576.5,578.06L579.5,577.78L582.0,577.95L584.0,578.05L587.5,577.58L590.5,577.79L594.0,577.83L596.5,577.88L600.0,577.61L604.5,577.84L609.5,577.92L614.5,577.86L621.0,577.53L624.5,577.77L627.5,577.72L629.0,577.84L631.5,577.72L634.5,577.83L638.0,577.59L643.0,577.78L645.5,577.77L648.5,577.93L654.0,577.57L657.0,577.60L659.5,577.60L661.5,577.41L663.5,577.45L666.5,577.53L670.0,577.41L670.5,577.26L671.0,576.82L671.5,575.75L672.0,573.43L672.5,568.97L673.0,561.46L673.5,550.47L674.0,536.75L674.5,522.53L675.0,511.12L675.5,505.79L676.0,508.18L676.5,517.57L677.0,531.17L677.5,545.45L678.0,557.68L678.5,566.57L679.0,572.14L679.5,575.19L680.0,576.65L680.5,577.30L681.0,577.59L682.0,577.78L684.5,577.69L689.0,577.42L690.5,577.41L693.0,577.69L699.5,577.50L703.0,577.74L706.5,577.63L708.5,577.59L710.5,577.38L714.0,577.80L718.0,577.45L720.5,577.27L723.5,577.43L726.5,577.37L730.0,577.57L733.0,577.10L735.0,577.11L738.0,577.40L741.5,577.41L745.5,577.54L749.0,577.14L754.5,577.34L760.5,577.15L763.5,577.38L770.5,577.24L774.5,577.29L778.5,577.15L780.0,577.11L781.5,577.29L782.5,577.51L784.5,577.53L786.5,577.42L789.5,577.49L791.5,577.29L794.0,576.98L796.0,577.08L798.5,577.48L800.5,577.46L802.5,577.27L803.5,577.27L805.0,577.49L807.0,577.44L809.0,577.25L818.5,577.05L820.0,577.06L823.5,577.36L828.5,577.32L831.0,577.38L834.0,577.26L835.5,577.32L839.0,576.96L845.5,577.18L848.5,577.29L851.5,577.17L855.0,577.43L856.5,577.36L858.5,577.15L861.5,577.16L864.0,577.07L866.5,577.10L871.0,576.94L875.0,577.09L884.5,577.05L890.5,576.79L895.0,576.78L898.0,577.08L902.0,577.03L905.0,577.25L906.5,577.15L909.0,576.86L913.5,577.09L917.0,577.11L919.5,576.76L920.5,576.64L924.0,576.89L925.5,576.96L927.5,577.11L929.0,577.02L930.5,576.92L932.0,577.03L934.5,577.35L937.0,577.22L940.0,576.98L947.0,576.97L948.5,576.83L949.5,576.45L950.0,576.07L950.5,575.50L951.0,574.63L951.5,573.48L952.0,572.03L952.5,570.30L954.0,564.39L954.5,562.65L955.0,561.34L955.5,560.58L956.0,560.46L956.5,560.99L957.0,562.11L957.5,563.71L958.0,565.59L959.0,569.55L959.5,571.36L960.0,572.92L960.5,574.19L961.0,575.19L961.5,575.93L962.0,576.41L962.5,576.66L963.5,576.86L965.5,576.92L967.0,577.03L973.0,576.90L975.0,577.22L976.5,577.25L979.5,577.05L986.5,576.85L988.5,577.01L991.0,577.13L993.5,577.00L994.5,576.73L995.0,576.41L995.5,575.88L996.0,575.00L996.5,573.70L997.0,571.82L997.5,569.24L998.0,565.73L998.5,561.10L999.0,555.28L999.5,548.15L1000.0,539.75L1000.5,530.22L1001.0,519.90L1001.5,509.29L1002.0,498.98L1002.5,489.62L1003.0,481.94L1003.5,476.54L1004.0,473.88L1004.5,474.16L1005.0,477.45L1005.5,483.52L1006.0,491.80L1006.5,501.64L1007.0,512.28L1007.5,523.07L1008.0,533.39L1008.5,542.75L1009.0,550.86L1009.5,557.62L1010.0,563.05L1010.5,567.27L1011.0,570.39L1011.5,572.60L1012.0,574.05L1012.5,574.91L1013.0,575.27L1013.5,575.15L1014.0,574.71L1015.0,573.20L1015.5,572.37L1016.0,571.65L1016.5,571.17L1017.0,571.03L1017.5,571.27L1018.0,571.81L1018.5,572.55L1019.5,574.29L1020.0,575.05L1020.5,575.66L1021.0,576.11L1021.5,576.43L1022.5,576.76L1024.5,576.94L1031.0,577.11L1035.0,577.24L1037.0,577.22L1040.0,576.87L1043.0,577.17L1044.5,577.07L1046.5,577.02L1048.5,577.13L1051.5,576.99L1054.5,577.29L1058.0,576.72L1060.5,576.83L1063.0,576.84L1067.5,577.13L1072.5,577.25L1074.5,577.22L1077.0,577.38L1080.5,576.95L1085.0,577.23L1094.0,576.99L1095.5,576.79L1096.5,576.37L1097.0,575.98L1097.5,575.42L1098.0,574.60L1098.5,573.44L1099.0,571.85L1099.5,569.74L1100.0,566.98L1100.5,563.41L1101.0,558.92L1101.5,553.42L1102.0,546.77L1102.5,538.93L1103.0,529.88L1103.5,519.72L1104.0,508.63L1104.5,496.85L1105.5,472.72L1106.0,461.28L1106.5,450.93L1107.0,442.13L1107.5,435.33L1108.0,430.89L1108.5,429.05L1109.0,430.06L1109.5,434.13L1110.0,441.06L1110.5,450.43L1111.0,461.67L1111.5,474.15L1112.5,500.35L1113.0,512.95L1113.5,524.63L1114.0,535.07L1114.5,544.08L1115.0,551.67L1115.5,557.89L1116.0,562.90L1116.5,566.79L1117.0,569.72L1117.5,571.98L1118.0,573.62L1118.5,574.79L1119.0,575.57L1119.5,576.08L1120.0,576.42L1121.0,576.76L1123.0,576.91L1126.5,576.80L1130.5,577.15L1136.5,577.03L1138.0,576.90L1140.0,577.14L1141.5,577.37L1145.0,577.40L1147.5,577.29L1150.5,576.80L1152.5,576.92L1155.0,577.21L1159.5,577.08L1163.0,577.06L1165.5,577.13L1170.5,576.81L1172.0,576.92L1174.5,577.19L1178.0,576.92L1181.5,577.03L1185.0,577.05L1189.5,577.07L1192.5,577.24L1196.0,576.85L1197.0,576.80L1200.5,577.10L1204.0,577.07L1207.0,576.94L1209.0,577.20L1210.5,577.38L1219.0,577.45L1221.0,577.41L1223.0,577.08L1226.5,577.03L1229.0,576.77L1232.5,577.11L1238.0,577.03L1242.0,576.91L1246.0,577.02L1252.5,577.27L1253.5,577.23L1255.5,576.80L1256.5,576.36L1257.0,576.06L1257.5,575.65L1258.0,575.09L1258.5,574.37L1259.0,573.47L1259.5,572.38L1260.0,571.10L1260.5,569.64L1261.5,566.35L1262.5,562.93L1263.0,561.30L1263.5,559.86L1264.0,558.70L1264.5,557.88L1265.0,557.44L1265.5,557.43L1266.0,557.86L1266.5,558.70L1267.0,559.88L1267.5,561.34L1268.5,564.78L1269.5,568.32L1270.0,569.96L1270.5,571.44L1271.0,572.72L1271.5,573.79L1272.0,574.69L1272.5,575.37L1273.0,575.88L1273.5,576.26L1274.5,576.72L1276.0,576.97L1279.0,577.07L1281.0,577.32L1283.0,577.31L1286.5,577.25L1288.5,577.36L1291.5,577.31L1293.0,577.42L1298.0,577.16L1302.0,577.25L1304.5,577.50L1308.0,577.48L1309.0,577.55L1313.0,577.28L1317.5,577.29L1320.0,577.15L1322.5,577.26L1326.5,577.10L1329.5,577.13L1332.0,577.02L1335.0,577.33L1337.5,577.63L1341.5,577.47L1343.0,577.48L1345.0,577.23L1346.5,577.04L1350.5,577.05L1355.0,577.21L1359.0,577.46L1367.5,577.13L1371.5,577.43L1376.5,577.10L1380.5,577.28L1385.5,577.04L1389.0,577.41L1392.5,577.03L1395.0,577.23L1397.0,577.47L1399.0,577.37L1401.0,577.13L1403.0,577.16L1410.0,577.29L1417.5,577.36L1421.0,577.47L1423.5,577.29L1428.0,577.05L1429.0,577.04L1432.5,577.52L1435.0,577.35L1437.5,577.12L1441.0,577.24L1444.0,577.35L1448.0,577.30" fill="none" stroke="#FF00FF" stroke-width="9.7" stroke-linejoin="round" stroke-linecap="butt"/>
<path d="M237.0,412.50L245.5,412.39L249.0,412.38L252.0,412.44L255.5,412.25L264.5,412.29L269.5,411.89L272.0,412.00L274.5,412.11L283.5,411.73L287.5,411.81L291.0,411.79L293.5,411.76L296.5,411.83L301.5,411.44L310.5,411.65L316.0,411.46L319.5,411.39L322.0,411.43L325.0,411.48L329.0,411.20L337.0,411.26L340.0,411.17L343.0,411.23L346.5,410.93L354.0,410.88L357.0,410.96L361.0,410.75L367.0,410.72L370.0,410.59L373.5,410.83L380.0,410.67L382.5,410.68L387.5,410.26L398.0,410.32L401.0,410.31L405.5,410.17L409.0,409.84L410.5,409.88L414.0,410.07L418.0,410.08L422.5,409.74L427.0,409.73L433.5,409.52L437.5,409.59L441.0,409.52L444.5,409.35L448.0,409.46L452.0,409.22L458.5,409.30L460.5,409.14L463.0,409.05L465.5,409.10L471.0,408.92L479.0,408.99L487.0,408.51L490.5,408.66L493.5,408.59L496.5,408.66L501.0,408.44L504.5,408.60L510.5,408.40L515.0,408.38L517.5,408.36L520.5,408.46L524.5,408.41L528.5,408.46L532.0,408.54L535.5,408.51L539.0,408.32L547.5,408.63L551.0,408.42L554.5,408.37L556.5,408.34L560.5,408.36L563.5,408.64L567.0,408.40L571.0,408.44L578.5,408.47L583.0,408.46L586.0,408.31L588.5,408.32L591.0,408.14L598.5,408.38L601.0,408.54L604.0,408.53L607.0,408.60L610.0,408.35L613.5,408.45L616.0,408.39L619.5,408.55L625.5,408.38L629.0,408.48L631.5,408.36L635.0,408.48L638.5,408.23L643.0,408.50L647.5,408.30L651.5,408.41L653.5,408.52L657.5,408.37L661.5,408.44L663.0,408.33L663.5,408.20L664.0,407.81L664.5,406.78L665.0,404.31L665.5,399.14L666.0,389.83L666.5,375.52L667.0,357.08L667.5,337.86L668.0,323.04L668.5,317.44L669.0,323.07L669.5,337.93L670.0,357.17L670.5,375.62L671.0,389.92L671.5,399.22L672.0,404.36L672.5,406.80L673.0,407.79L673.5,408.12L674.5,408.23L677.0,408.31L680.0,408.44L684.0,408.13L687.0,408.24L689.5,408.29L692.0,408.22L695.5,408.37L702.5,408.14L706.5,408.44L711.5,408.39L718.0,408.34L722.0,408.27L733.0,408.45L735.5,408.37L743.0,408.08L746.0,408.24L749.0,408.17L751.0,408.32L756.5,408.15L766.0,408.09L770.0,408.08L773.5,408.19L776.5,408.07L779.5,408.13L783.0,408.08L787.5,408.13L792.0,408.14L796.5,407.78L799.5,407.90L803.0,408.01L809.5,408.12L812.0,408.05L815.0,408.03L822.0,407.79L829.5,407.89L832.0,407.90L835.0,407.87L838.0,407.94L845.5,407.85L849.5,407.90L853.0,407.68L859.5,407.90L864.0,407.89L867.5,407.64L872.5,407.73L875.0,407.68L877.5,407.81L882.0,407.81L885.0,407.52L889.0,407.65L892.0,407.58L896.5,407.79L904.0,407.57L907.5,407.78L912.0,407.46L915.5,407.71L919.0,407.54L922.5,407.61L927.0,407.54L930.5,407.67L934.5,407.54L935.5,407.15L936.0,406.78L936.5,406.20L937.0,405.37L937.5,404.19L938.0,402.61L938.5,400.58L939.0,398.07L939.5,395.13L940.0,391.86L940.5,388.46L941.0,385.16L941.5,382.25L942.0,379.99L942.5,378.63L943.0,378.30L943.5,379.04L944.0,380.77L944.5,383.31L945.0,386.42L946.0,393.19L946.5,396.38L947.0,399.20L947.5,401.55L948.0,403.41L948.5,404.83L949.0,405.86L949.5,406.55L950.0,406.99L950.5,407.27L951.5,407.54L953.5,407.60L956.5,407.50L965.5,407.67L968.5,407.72L970.5,407.75L974.0,407.62L979.5,407.62L980.5,407.45L981.0,407.27L981.5,406.98L982.0,406.49L982.5,405.71L983.0,404.53L983.5,402.79L984.0,400.33L984.5,396.98L985.0,392.63L985.5,387.25L986.0,380.88L986.5,373.73L987.5,358.51L988.0,351.49L988.5,345.63L989.0,341.46L989.5,339.35L990.0,339.56L990.5,342.04L991.0,346.56L991.5,352.67L992.0,359.83L993.0,375.03L993.5,382.06L994.0,388.25L994.5,393.42L995.0,397.56L995.5,400.72L996.0,403.00L996.5,404.57L997.0,405.60L997.5,406.21L998.0,406.47L998.5,406.46L999.0,406.27L1000.0,405.67L1000.5,405.48L1001.0,405.49L1001.5,405.71L1003.0,406.92L1004.0,407.47L1005.0,407.69L1008.5,407.75L1014.0,407.71L1016.5,407.64L1018.5,407.48L1020.0,407.54L1022.5,407.73L1026.5,407.45L1031.0,407.61L1037.5,407.60L1040.0,407.56L1042.5,407.62L1045.5,407.54L1049.0,407.75L1054.5,407.58L1057.5,407.64L1061.0,407.44L1064.5,407.68L1068.5,407.42L1074.5,407.58L1078.0,407.36L1079.5,407.00L1080.0,406.73L1080.5,406.33L1081.0,405.74L1081.5,404.87L1082.0,403.58L1082.5,401.76L1083.0,399.27L1083.5,395.98L1084.0,391.69L1084.5,386.28L1085.0,379.61L1085.5,371.62L1086.0,362.29L1086.5,351.69L1087.0,340.02L1087.5,327.57L1088.0,314.73L1088.5,302.02L1089.0,290.00L1089.5,279.25L1090.0,270.32L1090.5,263.70L1091.0,259.80L1091.5,258.87L1092.0,261.20L1092.5,266.76L1093.0,275.17L1093.5,285.96L1094.0,298.41L1094.5,311.80L1095.0,325.47L1095.5,338.80L1096.0,351.28L1096.5,362.54L1097.0,372.37L1097.5,380.69L1098.0,387.51L1098.5,392.96L1099.0,397.18L1099.5,400.36L1100.0,402.69L1100.5,404.36L1101.0,405.52L1101.5,406.30L1102.0,406.82L1102.5,407.15L1103.5,407.46L1105.5,407.52L1110.0,407.65L1117.5,407.46L1121.0,407.71L1126.0,407.48L1132.0,407.46L1134.0,407.21L1136.5,406.96L1142.0,406.73L1146.5,406.24L1150.0,406.07L1155.5,406.04L1159.5,406.35L1168.0,407.23L1173.0,407.29L1176.5,407.51L1179.0,407.57L1181.5,407.63L1188.0,407.62L1191.5,407.69L1194.5,407.66L1197.5,407.83L1200.0,407.65L1202.5,407.49L1206.0,407.56L1209.0,407.58L1211.5,407.64L1214.5,407.47L1219.5,407.62L1221.5,407.60L1224.0,407.70L1226.5,407.67L1229.5,407.77L1235.0,407.59L1241.0,407.65L1244.0,407.61L1247.5,407.73L1251.0,407.76L1253.5,407.75L1258.5,407.50L1263.5,407.52L1266.5,407.49L1272.5,407.78L1279.0,407.54L1282.5,407.70L1285.5,407.65L1288.0,407.68L1293.5,407.55L1296.0,407.65L1298.0,407.85L1300.0,407.73L1301.5,407.58L1307.5,407.64L1314.0,407.56L1317.5,407.61L1324.5,407.57L1332.0,407.65L1336.0,407.62L1339.0,407.59L1342.5,407.76L1348.0,407.50L1354.5,407.58L1362.0,407.60L1369.0,407.70L1373.0,407.54L1381.0,407.47L1385.5,407.64L1398.0,407.46L1412.0,407.58L1415.0,407.53L1419.5,407.72L1426.0,407.69L1430.0,407.62L1437.0,407.57L1439.5,407.69L1443.0,407.58L1448.0,407.60" fill="none" stroke="#008000" stroke-width="9.7" stroke-linejoin="round" stroke-linecap="butt"/>
<path d="M237.0,242.80L243.5,242.96L250.0,242.47L254.0,242.55L259.0,242.74L263.0,242.57L266.0,242.37L276.0,242.45L284.0,242.31L289.5,242.37L291.5,242.11L293.5,242.21L296.5,242.44L300.5,242.31L305.5,242.18L311.0,242.22L313.0,242.23L316.0,241.96L319.0,241.89L322.0,241.56L325.5,241.77L331.5,241.74L333.0,241.85L336.5,241.69L338.0,241.70L341.0,241.41L345.5,241.39L348.5,241.46L351.0,241.46L354.0,241.63L357.0,241.17L360.5,241.33L364.0,240.99L368.5,240.96L371.0,241.12L374.0,240.89L378.0,241.02L381.0,240.91L384.0,240.93L388.0,240.54L391.0,240.41L392.5,240.24L400.0,240.23L403.5,240.40L407.0,240.18L410.0,240.33L413.5,240.08L419.0,240.18L428.0,239.73L431.5,239.68L435.5,239.55L438.5,239.13L441.0,239.14L447.0,239.51L448.5,239.41L451.5,238.76L454.5,238.67L459.0,238.90L462.5,238.66L467.5,238.70L469.0,238.79L472.5,238.54L476.5,238.53L480.0,238.18L485.0,238.20L488.0,237.83L493.0,238.00L496.5,238.20L499.5,237.90L503.0,238.03L509.5,237.77L512.5,237.93L515.5,237.75L518.5,237.87L523.0,237.80L525.0,237.57L528.5,237.75L531.5,237.45L533.5,237.55L535.0,237.72L536.5,237.69L538.0,237.49L540.0,237.55L543.5,237.73L546.0,237.79L549.5,237.43L552.5,237.45L557.0,237.85L560.0,237.85L565.5,237.47L570.0,237.62L574.5,237.24L578.5,237.59L587.0,237.38L590.5,237.44L593.5,237.32L597.5,237.42L599.5,237.52L602.5,237.35L605.0,237.54L608.5,237.26L615.5,237.30L619.5,237.39L621.5,237.25L624.5,237.43L632.5,237.25L636.5,237.18L640.5,237.27L643.5,236.98L648.0,237.20L652.0,237.12L655.0,237.23L659.5,236.91L662.5,237.21L663.0,237.14L663.5,236.90L664.0,236.28L664.5,234.80L665.0,231.82L665.5,226.63L666.0,218.97L667.0,200.16L667.5,193.52L668.0,191.83L668.5,195.73L669.0,203.84L669.5,213.52L670.0,222.38L670.5,228.99L671.0,233.16L671.5,235.42L672.0,236.46L672.5,236.91L673.0,237.11L674.5,237.27L676.5,237.23L682.0,236.85L688.5,237.18L691.5,237.11L694.0,237.27L700.5,236.89L702.0,236.90L705.0,237.04L716.0,236.88L718.0,236.85L721.5,236.99L725.0,236.71L727.0,236.99L728.5,237.00L730.0,236.88L733.5,236.96L738.0,236.98L741.0,237.12L744.0,236.90L748.0,236.72L749.5,236.82L752.0,237.09L754.0,236.82L757.5,235.78L760.5,235.25L762.0,235.18L764.5,235.61L768.5,236.35L770.0,236.70L772.0,236.74L776.0,236.63L779.5,237.00L783.5,236.81L790.0,236.78L795.0,236.75L799.0,236.44L803.0,236.71L810.5,236.66L812.0,236.65L813.5,236.81L815.0,237.04L816.5,237.06L821.0,236.68L823.0,236.73L826.0,236.99L830.5,236.81L833.5,236.86L837.5,236.80L840.5,236.66L845.0,236.66L847.0,236.82L852.5,236.73L854.0,236.48L855.5,235.89L857.0,234.92L858.5,233.92L859.5,233.52L860.5,233.56L861.5,233.94L864.5,235.79L866.0,236.43L867.5,236.73L873.0,236.77L876.0,236.66L882.0,236.71L884.0,236.73L886.5,237.00L890.5,236.79L896.5,236.59L899.5,236.83L902.5,236.68L909.5,236.91L913.5,236.71L916.0,236.78L919.0,236.76L921.0,236.80L924.0,236.70L930.0,237.03L934.5,236.71L935.5,236.48L936.0,236.25L936.5,235.89L937.0,235.37L937.5,234.67L938.0,233.78L938.5,232.71L939.0,231.45L940.5,227.24L941.0,226.01L941.5,225.05L942.0,224.47L942.5,224.33L943.0,224.60L943.5,225.29L944.0,226.32L944.5,227.58L946.0,231.66L946.5,232.88L947.0,233.90L947.5,234.73L948.0,235.40L948.5,235.90L949.0,236.28L950.0,236.63L951.0,236.74L955.5,236.75L960.0,237.12L962.5,236.86L964.0,236.69L968.0,236.74L971.0,237.10L972.0,237.04L973.5,236.87L977.5,236.82L979.0,236.58L980.0,236.16L980.5,235.78L981.0,235.22L981.5,234.45L982.0,233.33L982.5,231.81L983.0,229.80L983.5,227.30L984.0,224.34L984.5,221.01L985.5,214.04L986.0,210.94L986.5,208.49L987.0,206.93L987.5,206.41L988.0,206.98L988.5,208.59L989.0,211.09L989.5,214.20L990.5,221.15L991.0,224.50L991.5,227.49L992.0,230.01L992.5,232.04L993.0,233.59L993.5,234.73L994.0,235.52L994.5,236.03L995.0,236.35L995.5,236.52L996.0,236.55L996.5,236.48L997.5,236.07L998.5,235.27L999.5,234.33L1000.0,233.94L1000.5,233.66L1001.0,233.54L1001.5,233.65L1002.0,233.93L1004.0,235.74L1005.0,236.34L1006.0,236.67L1008.0,236.83L1010.5,236.81L1013.0,236.96L1017.5,236.70L1022.5,236.85L1027.5,236.83L1030.0,236.97L1034.5,236.96L1037.0,236.83L1040.0,237.07L1044.0,236.74L1048.0,236.68L1051.5,236.97L1057.0,236.84L1066.5,236.70L1070.5,236.79L1074.5,236.73L1077.0,236.85L1078.5,236.62L1079.5,236.24L1080.0,235.90L1080.5,235.42L1081.0,234.73L1081.5,233.70L1082.0,232.25L1082.5,230.23L1083.0,227.47L1083.5,223.79L1084.0,219.01L1084.5,212.98L1085.0,205.59L1085.5,196.75L1086.0,186.52L1086.5,175.04L1087.0,162.56L1087.5,149.47L1088.0,136.28L1088.5,123.60L1089.0,112.05L1089.5,102.26L1090.0,94.81L1090.5,90.17L1091.0,88.60L1091.5,90.32L1092.0,95.29L1092.5,103.20L1093.0,113.52L1093.5,125.65L1094.0,138.86L1094.5,152.47L1095.0,165.83L1095.5,178.44L1096.0,189.91L1096.5,199.96L1097.0,208.50L1097.5,215.54L1098.0,221.19L1098.5,225.58L1099.0,228.90L1099.5,231.35L1100.0,233.13L1100.5,234.39L1101.0,235.25L1101.5,235.81L1102.0,236.17L1102.5,236.40L1103.5,236.60L1107.0,236.86L1110.5,236.76L1114.0,236.94L1115.5,236.86L1117.0,236.58L1118.5,236.52L1120.5,236.90L1122.0,236.93L1124.5,236.60L1127.0,236.61L1130.0,236.91L1133.5,236.69L1137.5,236.76L1141.0,236.45L1143.0,236.56L1146.5,237.00L1148.5,237.02L1152.0,236.84L1158.0,236.84L1162.5,236.87L1165.5,236.98L1171.5,236.92L1173.5,236.91L1176.5,236.83L1179.5,236.90L1184.5,236.67L1189.0,236.91L1192.5,236.62L1195.5,236.89L1202.0,236.81L1204.0,236.78L1207.0,236.85L1211.5,236.62L1214.5,237.00L1218.0,236.84L1221.0,237.01L1226.0,236.64L1229.5,236.81L1232.5,236.72L1235.5,236.80L1236.5,236.52L1237.0,236.27L1237.5,235.87L1238.0,235.33L1238.5,234.58L1239.0,233.62L1239.5,232.35L1240.0,230.70L1240.5,228.63L1241.0,226.07L1241.5,222.98L1242.0,219.31L1242.5,215.08L1243.0,210.39L1243.5,205.34L1244.5,194.84L1245.0,189.81L1245.5,185.29L1246.0,181.48L1246.5,178.58L1247.0,176.77L1247.5,176.16L1248.0,176.81L1248.5,178.73L1249.0,181.78L1249.5,185.79L1250.0,190.52L1250.5,195.71L1251.5,206.44L1252.0,211.54L1252.5,216.24L1253.0,220.42L1253.5,224.02L1254.0,227.03L1254.5,229.49L1255.0,231.43L1255.5,232.92L1256.0,234.04L1256.5,234.86L1257.0,235.46L1257.5,235.88L1258.5,236.39L1260.0,236.73L1261.5,236.85L1264.5,236.81L1267.5,236.94L1270.5,236.69L1276.0,236.89L1282.0,236.57L1286.0,236.64L1289.0,236.82L1290.5,236.86L1293.5,236.58L1296.0,236.61L1299.5,236.80L1303.5,236.65L1307.0,236.76L1310.0,236.96L1314.0,236.89L1316.5,237.16L1317.0,237.19L1320.0,236.72L1327.5,236.92L1332.5,236.73L1336.5,236.98L1339.5,236.86L1341.5,236.89L1345.0,236.72L1351.5,236.72L1354.5,236.91L1360.0,236.89L1363.0,237.04L1367.0,236.76L1370.5,236.70L1372.5,236.76L1375.5,236.73L1380.5,236.68L1387.5,236.82L1389.0,236.94L1392.5,236.65L1396.0,236.79L1399.0,236.64L1402.5,236.70L1411.5,236.76L1413.5,236.71L1416.5,236.51L1419.5,236.79L1422.5,236.71L1425.0,236.96L1428.5,236.89L1433.0,236.99L1434.0,237.02L1437.0,236.59L1443.5,236.76L1448.0,236.80" fill="none" stroke="#000080" stroke-width="9.7" stroke-linejoin="round" stroke-linecap="butt"/>
<text transform="translate(87.71,185.90) scale(0.9166,1)" font-size="90.11" fill="#000">600</text>
<text transform="translate(88.47,495.90) scale(0.9097,1)" font-size="90.07" fill="#000">400</text>
<text transform="translate(86.78,805.90) scale(0.9226,1)" font-size="90.07" fill="#000">200</text>
<text transform="translate(169.81,1115.10) scale(0.9143,1)" font-size="90.07" fill="#000">0</text>
<text transform="translate(315.27,1224.10) scale(0.9305,1)" font-size="90.37" fill="#000">10</text>
<text transform="translate(618.27,1224.09) scale(0.9234,1)" font-size="91.04" fill="#000">15</text>
<text transform="translate(920.60,1224.10) scale(0.9406,1)" font-size="90.37" fill="#000">20</text>
<text transform="translate(1224.08,1224.09) scale(0.9119,1)" font-size="91.04" fill="#000">25</text>
<text transform="translate(1211.76,135.12) scale(0.9361,1)" font-size="88.06" fill="#000080">TSBD</text>
<text transform="translate(1196.45,361.32) scale(0.9439,1)" font-size="88.06" fill="#008000">TOBD</text>
<text transform="translate(1214.59,517.31) scale(0.9372,1)" font-size="89.40" fill="#FF00FF">SPBD</text>
<text transform="translate(1211.26,663.93) scale(0.9505,1)" font-size="87.01" fill="#0000A0">LSBD</text>
<text transform="translate(1198.82,822.72) scale(0.9496,1)" font-size="88.06" fill="#FF0000">CABD</text>
<text transform="translate(1205.87,992.45) scale(0.9311,1)" font-size="89.32" fill="#000000">AABD</text>
<text transform="translate(673.57,1322.7) scale(0.9311,1)" font-size="88.40" fill="#000">Time</text>
<text transform="translate(875.52,1317.22) scale(0.9311,0.8826)" font-size="88.40" fill="#000">(</text>
<text transform="translate(902.93,1322.7) scale(0.9311,1)" font-size="88.40" fill="#000">mins</text>
<text transform="translate(1072.16,1317.22) scale(0.9311,0.8826)" font-size="88.40" fill="#000">)</text>
<text transform="translate(76.3,778.08) rotate(-90) scale(1.0410,1.0)" font-size="84.55" fill="#000">A</text>
<text transform="translate(76.3,714.52) rotate(-90) scale(1.0410,0.935)" font-size="84.55" fill="#000">b</text>
<text transform="translate(76.3,665.57) rotate(-90) scale(1.0410,1.0)" font-size="84.55" fill="#000">u</text>
<text transform="translate(76.3,616.62) rotate(-90) scale(1.0410,1.0)" font-size="84.55" fill="#000">n</text>
<text transform="translate(76.3,567.67) rotate(-90) scale(1.0410,0.935)" font-size="84.55" fill="#000">d</text>
<text transform="translate(76.3,518.72) rotate(-90) scale(1.0410,1.0)" font-size="84.55" fill="#000">a</text>
<text transform="translate(76.3,474.72) rotate(-90) scale(1.0410,1.0)" font-size="84.55" fill="#000">n</text>
<text transform="translate(76.3,425.77) rotate(-90) scale(1.0410,1.0)" font-size="84.55" fill="#000">c</text>
<text transform="translate(76.3,386.70) rotate(-90) scale(1.0410,1.0)" font-size="84.55" fill="#000">e</text>
</svg>
</body></html>
